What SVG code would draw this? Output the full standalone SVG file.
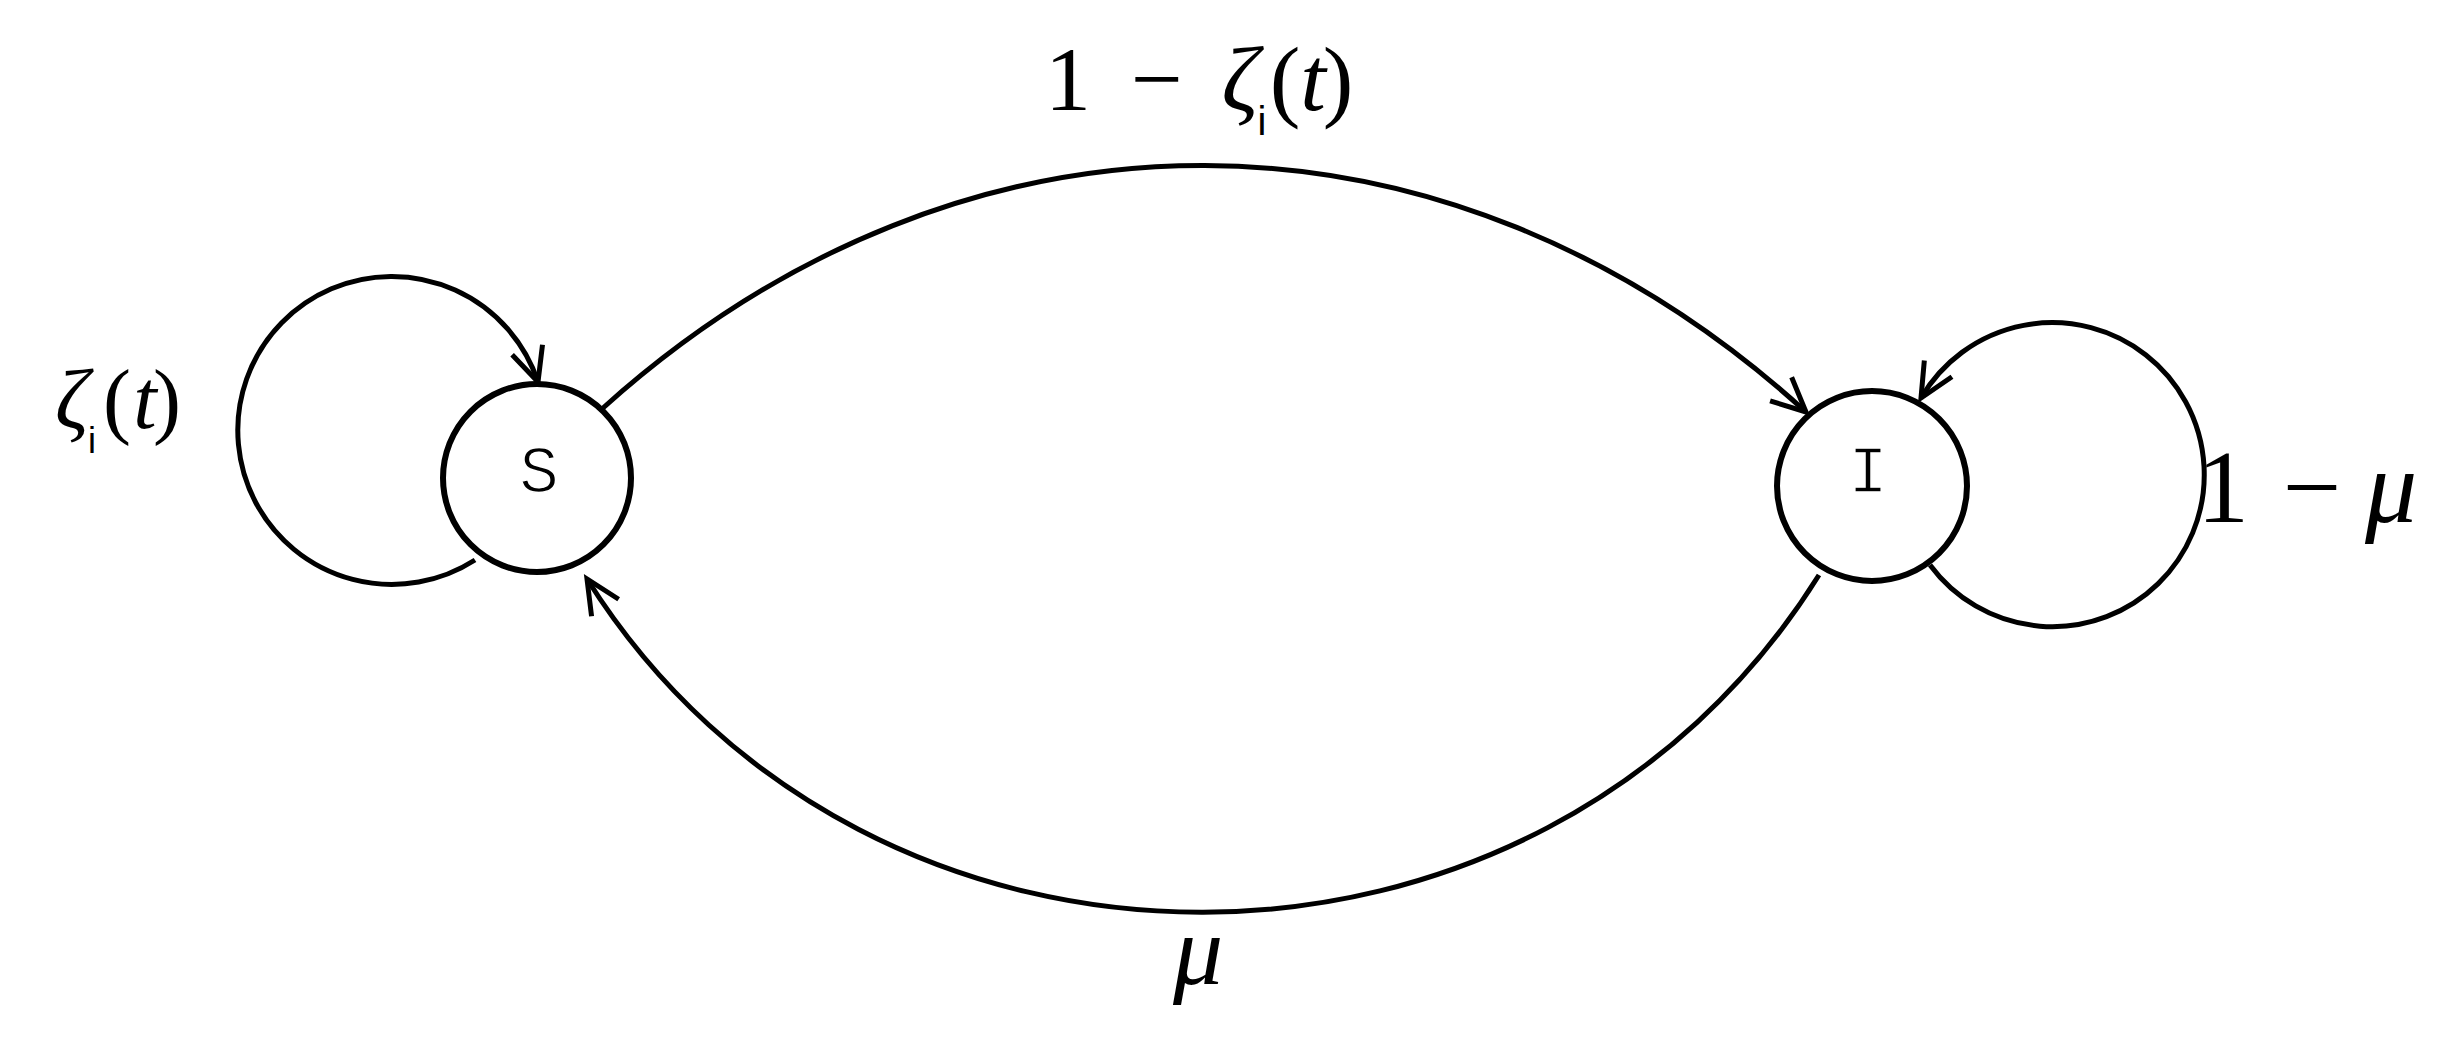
<svg xmlns="http://www.w3.org/2000/svg" width="2455" height="1053" viewBox="0 0 2455 1053">
<style>
.node{fill:#fff;stroke:#000;stroke-width:6}
.edge{fill:none;stroke:#000;stroke-width:5}
.nl{font-family:"Liberation Mono","Courier New",monospace;font-size:66px;fill:#000;stroke:#fff;stroke-width:1.6;text-anchor:middle}
.m{font-family:"Liberation Serif","Times New Roman",serif;fill:#000;text-anchor:middle}
.it{font-style:italic}
.sub{font-family:"Liberation Sans",Arial,sans-serif;fill:#000;text-anchor:middle}
</style>
<defs>
<marker id="arr" viewBox="-50 -30 60 60" refX="0" refY="0" markerWidth="60" markerHeight="60" markerUnits="userSpaceOnUse" orient="auto" overflow="visible">
<path d="M-34,-16 L0,0 L-34,16" fill="none" stroke="#000" stroke-width="5" stroke-linejoin="miter"/>
</marker>
</defs>
<rect width="2455" height="1053" fill="#fff"/>
<g id="connectors">
<path id="e-S-S" class="edge" d="M475,560 A154,154 0 1 1 538,382" marker-end="url(#arr)"/>
<path id="e-I-I" class="edge" d="M1930,565 A152,152 0 1 0 1921,398" marker-end="url(#arr)"/>
<path id="e-S-I" class="edge" d="M603,408 C963,84 1446,84 1806,412" marker-end="url(#arr)"/>
<path id="e-I-S" class="edge" d="M1819,575 C1539,1024 867,1024 587,579" marker-end="url(#arr)"/>
</g>
<g id="node-S">
<circle class="node" cx="537" cy="478" r="94"/>
<text class="nl" x="539" y="492">S</text>
</g>
<g id="node-I">
<circle class="node" cx="1872" cy="486" r="95"/>
<text class="nl" x="1868" y="492">I</text>
</g>
<g id="labels">
<g id="label-S-S">
<text class="m" font-size="84" y="428"><tspan class="it" x="72">ζ</tspan><tspan x="117">(</tspan><tspan class="it" x="145">t</tspan><tspan x="167">)</tspan></text>
<text class="sub" font-size="36" x="92" y="453">i</text>
</g>
<g id="label-S-I">
<text class="m" font-size="92" y="110"><tspan x="1068">1</tspan><tspan x="1157">−</tspan><tspan class="it" x="1240">ζ</tspan><tspan x="1285">(</tspan><tspan class="it" x="1313">t</tspan><tspan x="1338">)</tspan></text>
<text class="sub" font-size="40" x="1262" y="135">i</text>
</g>
<g id="label-I-I">
<text class="m" font-size="104" y="522"><tspan x="2223">1</tspan><tspan x="2312">−</tspan><tspan class="it" x="2391">μ</tspan></text>
</g>
<g id="label-I-S">
<text class="m it" font-size="100" x="1198" y="984">μ</text>
</g>
</g>
</svg>
